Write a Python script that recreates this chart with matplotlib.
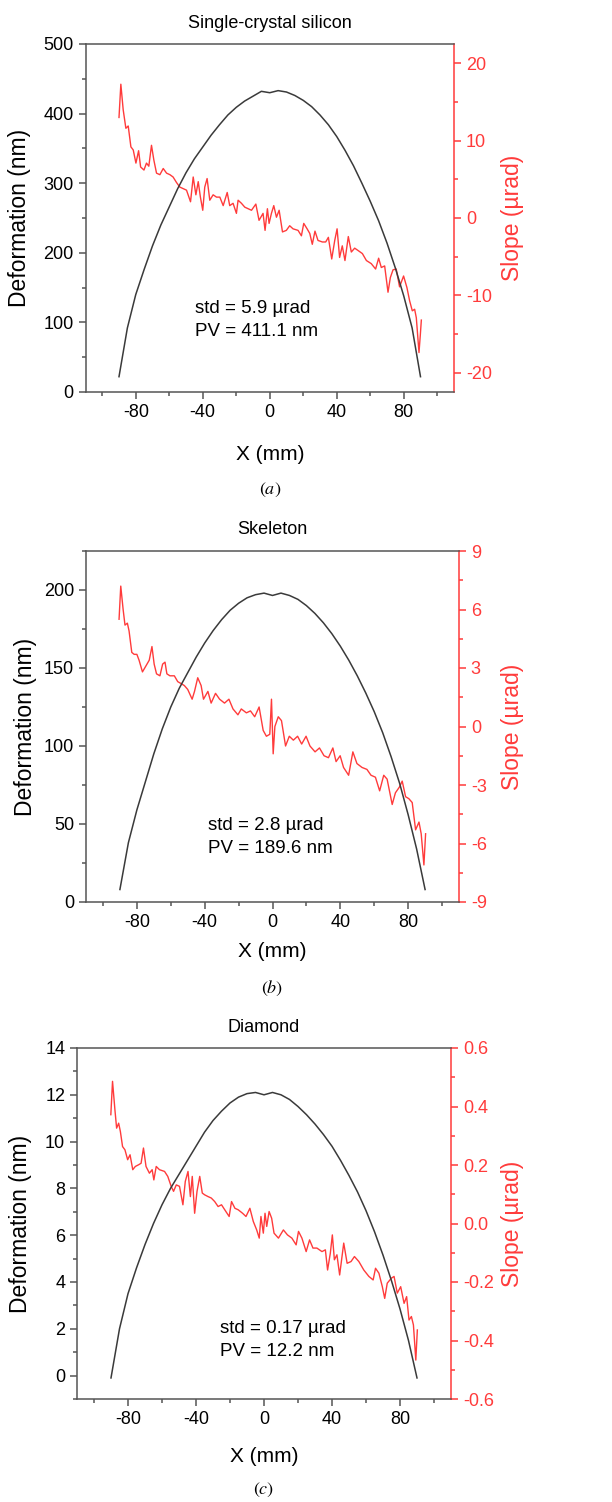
import matplotlib
matplotlib.use("Agg")
import matplotlib.pyplot as plt
import numpy as np
from matplotlib.ticker import MultipleLocator

plt.rcParams['font.family'] = ['Liberation Sans', 'DejaVu Sans']
plt.rcParams['mathtext.fontset'] = 'stix'
plt.rcParams['axes.unicode_minus'] = False

# deformation profiles, sampled every 5 mm
x_def = np.arange(-90, 91, 5)
def_si = [22, 92, 140, 176, 210, 240, 266, 292, 315, 335, 352, 369, 384, 398, 409, 418, 425, 432, 430,
          433, 431, 426, 419, 410, 398, 384, 367, 347, 325, 300, 274, 246, 214, 178, 138, 92, 22]
def_sk = [8, 38, 59, 77, 95, 111, 125, 137, 147, 157, 166, 174, 181, 187, 191.5, 195, 197, 198, 196.5,
          198, 196.5, 194, 190, 185, 179, 172, 164, 155, 145, 134, 122, 108.5, 93, 76, 56, 34, 8]
def_di = [-0.1, 2.0, 3.5, 4.6, 5.6, 6.5, 7.3, 8.0, 8.6, 9.2, 9.8, 10.4, 10.9, 11.3, 11.65, 11.9, 12.05, 12.1, 12.0,
          12.1, 12.0, 11.8, 11.5, 11.15, 10.75, 10.3, 9.8, 9.2, 8.55, 7.85, 7.05, 6.15, 5.15, 4.05, 2.85, 1.5, -0.1]

# slope profiles (x in mm, slope in urad)
xs_si = [-90.0, -88.9, -87.5, -85.9, -84.5, -82.9, -81.5, -79.9, -78.3, -77.1, -75.1, -73.6, -72.2, -70.6,
         -69.2, -67.6, -65.6, -63.6, -61.6, -59.6, -57.7, -55.7, -53.7, -51.7, -49.7, -47.3, -45.7, -44.1,
         -42.7, -41.4, -40.0, -38.8, -37.4, -35.8, -33.8, -31.8, -29.8, -27.8, -25.4, -23.9, -21.9, -19.9,
         -18.9, -16.9, -14.9, -12.9, -10.9, -8.3, -6.4, -4.0, -2.8, -1.4, -0.4, 1.0, 2.4, 4.0, 5.6, 7.6,
         9.9, 11.9, 13.9, 16.9, 18.9, 20.3, 22.3, 23.9, 25.4, 27.0, 28.8, 31.4, 33.4, 35.0, 37.0, 38.8,
         40.2, 41.7, 43.3, 44.9, 46.9, 48.7, 50.7, 52.7, 55.3, 57.7, 60.6, 63.2, 65.0, 66.6, 68.6, 70.6,
         72.0, 73.6, 75.5, 77.5, 79.9, 81.9, 83.5, 85.1, 86.5, 87.5, 89.1, 89.9, 90.5]
sl_si = [13.0, 17.3, 14.0, 11.6, 11.9, 9.2, 8.8, 7.1, 8.7, 6.6, 6.2, 7.1, 6.7, 9.4,
         7.5, 5.8, 5.6, 6.4, 5.8, 5.6, 5.3, 4.6, 4.0, 3.8, 3.6, 2.1, 5.3, 3.0,
         4.7, 2.7, 1.0, 4.0, 5.1, 2.3, 3.0, 2.7, 2.7, 1.6, 3.3, 1.6, 1.9, 0.6,
         2.3, 1.9, 1.4, 1.2, 1.0, 1.8, -0.3, 0.6, -1.6, 1.2, -0.7, 0.6, 1.6, 0.1, 1.0, -1.8,
         -1.6, -1.0, -1.4, -1.6, -2.3, -0.7, -1.4, -2.0, -3.4, -1.7, -2.9, -3.1, -3.1, -2.5, -5.3, -2.9,
         -1.4, -5.1, -3.6, -5.5, -2.4, -4.4, -3.9, -4.2, -4.6, -5.5, -5.9, -6.6, -5.2, -6.4, -6.2, -9.6,
         -7.7, -6.7, -6.6, -8.9, -7.5, -9.0, -10.7, -12.0, -11.8, -12.9, -17.4, -15.1, -13.2]

xs_sk = [-90.5, -89.5, -88.1, -87.0, -85.6, -84.6, -83.0, -81.6, -80.0, -78.7, -76.7, -74.7, -72.7, -71.1,
         -69.8, -68.4, -66.4, -64.8, -63.4, -62.3, -60.5, -57.9, -55.9, -53.9, -52.0, -50.0, -47.4, -46.0,
         -44.1, -42.1, -40.7, -38.1, -36.2, -33.6, -31.2, -28.3, -25.7, -23.3, -20.4, -18.4, -15.4, -13.0,
         -10.5, -7.9, -5.5, -3.6, -1.6, -0.6, 0.4, 1.4, 3.4, 5.3, 7.7, 9.9, 12.3, 14.8, 17.2, 19.8, 22.1,
         25.1, 27.7, 30.4, 33.0, 35.6, 37.5, 39.9, 41.9, 44.9, 47.4, 49.8, 52.8, 55.7, 58.1, 60.7, 63.2,
         65.6, 67.6, 70.6, 72.5, 74.9, 76.5, 78.5, 80.4, 82.4, 84.4, 86.4, 87.7, 89.3, 90.3]
sl_sk = [5.5, 7.2, 6.0, 5.2, 5.3, 4.9, 3.8, 3.7, 3.7, 3.4, 2.8, 3.1, 3.4, 4.1,
         3.2, 2.7, 2.6, 3.2, 3.3, 2.7, 2.6, 2.6, 2.3, 2.2, 2.1, 1.9, 1.4, 1.8,
         2.5, 2.1, 1.4, 1.8, 1.2, 1.7, 1.4, 1.2, 1.4, 0.9, 0.6, 0.9, 0.7, 0.8,
         0.5, 1.0, -0.2, -0.5, -0.4, 1.4, -1.4, 0.0, 0.5, 0.3, -1.0, -0.5, -0.7, -0.5, -0.9, -0.5, -1.0,
         -1.3, -1.1, -1.5, -1.6, -1.1, -1.8, -1.5, -2.1, -2.5, -1.3, -1.9, -2.1, -2.2, -2.5, -2.6, -3.3,
         -2.5, -2.7, -4.0, -3.4, -3.1, -2.8, -3.6, -3.7, -3.9, -5.3, -4.9, -5.5, -7.1, -5.5]

xs_di = [-90.1, -89.1, -87.7, -86.7, -85.5, -84.5, -83.2, -81.8, -80.2, -78.8, -77.2, -75.7, -73.7, -72.3,
         -70.9, -69.4, -67.4, -65.8, -64.8, -63.4, -61.5, -58.5, -56.6, -54.6, -53.2, -51.6, -49.7, -47.7,
         -46.3, -44.7, -43.3, -42.2, -40.8, -39.4, -37.8, -36.3, -34.9, -32.9, -31.0, -29.0, -27.0, -25.0,
         -23.1, -20.5, -19.1, -17.1, -15.2, -12.6, -10.6, -8.3, -6.3, -4.3, -2.8, -1.8, -0.4, 0.6, 1.6,
         3.0, 4.5, 5.9, 8.5, 11.4, 13.8, 16.4, 18.9, 20.3, 22.3, 24.8, 26.8, 28.8, 31.1, 34.1, 36.1, 37.4,
         39.0, 40.2, 41.4, 42.9, 44.5, 46.9, 48.9, 51.2, 53.2, 55.8, 58.7, 61.7, 64.2, 65.6, 67.6, 69.6,
         71.0, 72.5, 74.9, 76.5, 78.4, 80.4, 82.4, 83.9, 85.3, 86.7, 87.9, 89.3, 90.2]
sl_di = [0.372, 0.486, 0.389, 0.326, 0.343, 0.315, 0.263, 0.252, 0.218, 0.235, 0.184, 0.195, 0.201, 0.206,
         0.258, 0.195, 0.172, 0.184, 0.149, 0.195, 0.184, 0.178, 0.161, 0.127, 0.110, 0.132, 0.127, 0.064,
         0.144, 0.178, 0.092, 0.161, 0.035, 0.110, 0.161, 0.104, 0.098, 0.092, 0.087, 0.075, 0.058, 0.064,
         0.047, 0.024, 0.075, 0.052, 0.047, 0.035, 0.024, 0.052, 0.007, -0.022, -0.050, 0.024, -0.033, 0.035, -0.010,
         0.041, 0.018, -0.033, -0.050, -0.022, -0.039, -0.050, -0.073, -0.027, -0.050, -0.096, -0.056, -0.084, -0.084, -0.096, -0.090, -0.159,
         -0.102, -0.039, -0.124, -0.107, -0.176, -0.067, -0.136, -0.130, -0.113, -0.130, -0.159, -0.181, -0.193, -0.153, -0.170, -0.216,
         -0.256, -0.204, -0.187, -0.181, -0.238, -0.216, -0.273, -0.250, -0.330, -0.318, -0.347, -0.467, -0.364]

W, H = 612, 1502
RED = "#ff3b3b"
GRAY = "#555555"


def panel(box, title, dy, xs, sl, ylim, ymaj, slim, smaj, fmt, txt, txtpos,
          ty, xly, cy, caption, ylx):
    l, t, r, b = box
    ax = fig.add_axes([l / W, 1 - b / H, (r - l) / W, (b - t) / H])
    ax2 = ax.twinx()
    ax2.plot(xs, sl, color=RED, lw=1.0)
    ax.plot(x_def, dy, color="#3a3a3a", lw=1.1)
    ax.set_zorder(ax2.get_zorder() + 1)
    ax.patch.set_visible(False)

    ax.set_xlim(-110, 110)
    ax.set_ylim(*ylim)
    ax2.set_ylim(*slim)
    ax.set_xticks([-80, -40, 0, 40, 80])
    ax.xaxis.set_minor_locator(MultipleLocator(20))
    ax.yaxis.set_major_locator(MultipleLocator(ymaj))
    ax.yaxis.set_minor_locator(MultipleLocator(ymaj / 2))
    ax2.yaxis.set_major_locator(MultipleLocator(smaj))
    ax2.yaxis.set_minor_locator(MultipleLocator(smaj / 2))
    ax2.yaxis.set_major_formatter(fmt)

    for s in ["left", "bottom", "top"]:
        ax.spines[s].set_color(GRAY)
        ax.spines[s].set_linewidth(1.1)
    ax.spines["right"].set_visible(False)
    for s in ["left", "bottom", "top"]:
        ax2.spines[s].set_visible(False)
    ax2.spines["right"].set_color(RED)
    ax2.spines["right"].set_linewidth(1.1)

    ax.tick_params(axis="both", which="both", direction="out", color=GRAY, width=1.1,
                   labelsize=13, top=False, right=False)
    ax.tick_params(axis="both", which="major", length=5)
    ax.tick_params(axis="both", which="minor", length=3)
    # top ticks point inward (drawn on the twin's shared x axis)
    ax2.tick_params(axis="x", which="both", direction="in", bottom=False, top=True,
                    labelbottom=False, labeltop=False, color=GRAY, width=1.1)
    ax2.tick_params(axis="x", which="major", length=5)
    ax2.tick_params(axis="x", which="minor", length=3)
    ax2.tick_params(axis="y", which="both", direction="out", color=RED, labelcolor=RED,
                    labelsize=13, width=1.1)
    ax2.tick_params(axis="y", which="major", length=5)
    ax2.tick_params(axis="y", which="minor", length=3)

    fig.text((l + r) / 2 / W, 1 - ty / H, title, ha="center", va="center", fontsize=13)
    fig.text((l + r) / 2 / W, 1 - xly / H, "X (mm)", ha="center", va="center", fontsize=15)
    fig.text((l + r) / 2 / W, 1 - cy / H, caption, ha="center", va="center", fontsize=13)
    fig.text(ylx[0] / W, 1 - (t + b) / 2 / H, "Deformation (nm)", rotation=90,
             ha="center", va="center", fontsize=16.5)
    fig.text(ylx[1] / W, 1 - (t + b) / 2 / H, "Slope (\u00b5rad)", rotation=90,
             ha="center", va="center", fontsize=16.5, color=RED)
    fig.text(txtpos[0] / W, 1 - txtpos[1] / H, txt, ha="left", va="center",
             fontsize=13.5, linespacing=1.45)
    return ax


fig = plt.figure(figsize=(W / 100, H / 100), dpi=100)

panel((85.5, 44, 454, 392), "Single-crystal silicon", def_si, xs_si, sl_si,
      (0, 500), 100, (-22.5, 22.5), 10, "{x:.0f}",
      "std = 5.9 \u00b5rad\nPV = 411.1 nm", (195, 320), 24, 455, 490, r"$(\mathit{a})$", (20, 512))
panel((86, 551, 459, 902), "Skeleton", def_sk, xs_sk, sl_sk,
      (0, 225), 50, (-9, 9), 3, "{x:.0f}",
      "std = 2.8 \u00b5rad\nPV = 189.6 nm", (208, 837), 530, 952, 988, r"$(\mathit{b})$", (26, 512))
panel((77, 1048, 451, 1399), "Diamond", def_di, xs_di, sl_di,
      (-1, 14), 2, (-0.6, 0.6), 0.2, "{x:.1f}",
      "std = 0.17 \u00b5rad\nPV = 12.2 nm", (220, 1340), 1027, 1457, 1490, r"$(\mathit{c})$", (21, 512))

fig.savefig("out.png", dpi=100)
